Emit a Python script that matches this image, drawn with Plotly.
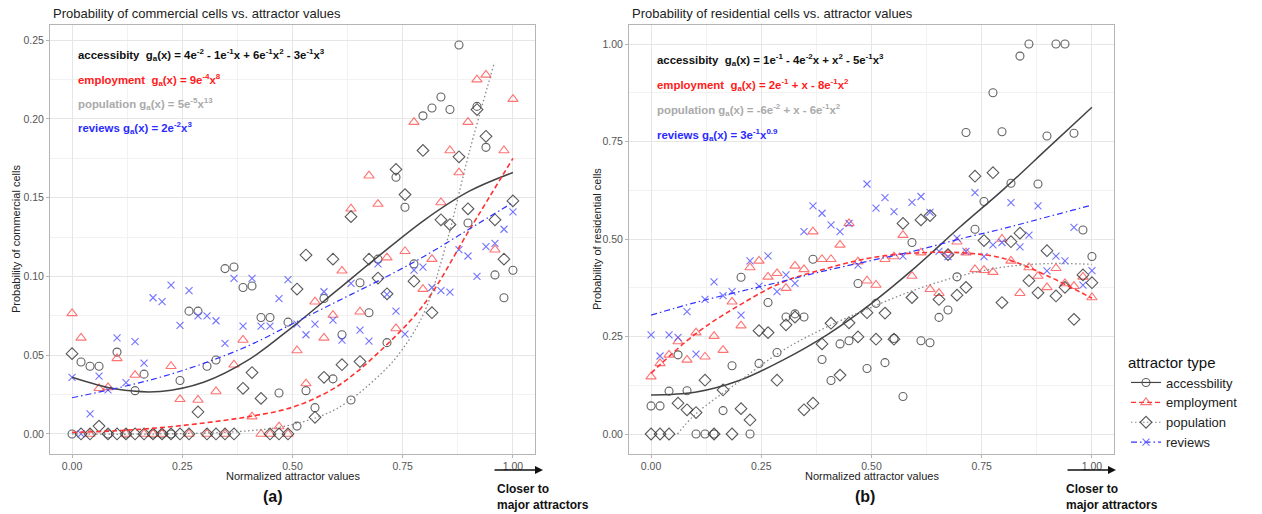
import plotly.graph_objects as go

# ---------------- data ----------------
x_norm = [0.0, 0.0204, 0.0408, 0.0612, 0.0816, 0.102, 0.1224, 0.1429, 0.1633, 0.1837,
          0.2041, 0.2245, 0.2449, 0.2653, 0.2857, 0.3061, 0.3265, 0.3469, 0.3673, 0.3878,
          0.4082, 0.4286, 0.449, 0.4694, 0.4898, 0.5102, 0.5306, 0.551, 0.5714, 0.5918,
          0.6122, 0.6327, 0.6531, 0.6735, 0.6939, 0.7143, 0.7347, 0.7551, 0.7755, 0.7959,
          0.8163, 0.8367, 0.8571, 0.8776, 0.898, 0.9184, 0.9388, 0.9592, 0.9796, 1.0]

# panel (a) commercial
acc_a = [0.0, 0.0457, 0.043, 0.043, 0.0, 0.052, 0.0, 0.0275, 0.038, 0.0,
         0.0, 0.0, 0.034, 0.078, 0.078, 0.043, 0.047, 0.105, 0.106, 0.093,
         0.094, 0.074, 0.074, 0.026, 0.071, 0.005, 0.0275, 0.0167, 0.086, 0.035,
         0.063, 0.0216, 0.096, 0.077, 0.111, 0.058, 0.163, 0.144, 0.108, 0.202,
         0.207, 0.214, 0.206, 0.247, 0.134, 0.208, 0.182, 0.101, 0.0865, 0.104]
emp_a = [0.0766, 0.061, 0.0, 0.029, 0.0296, 0.048, 0.0, 0.0374, 0.0, 0.0,
         0.0, 0.043, 0.022, 0.0, 0.0216, 0.0, 0.027, 0.0, 0.044, 0.0597,
         0.011, 0.0, 0.0, 0.0047, 0.0, 0.053, 0.032, 0.084, 0.061, 0.0755,
         0.1036, 0.143, 0.0776, 0.164, 0.146, 0.112, 0.067, 0.116, 0.198, 0.092,
         0.111, 0.147, 0.180, 0.166, 0.198, 0.225, 0.228, 0.117, 0.180, 0.2126]
pop_a = [0.051, 0.0, 0.0, 0.005, 0.0, 0.0, 0.0, 0.0, 0.0, 0.0,
         0.0, 0.0, 0.0, 0.0, 0.014, 0.0, 0.0, 0.0, 0.0, 0.029,
         0.039, 0.0226, 0.0, 0.0, 0.0, 0.092, 0.1136, 0.0106, 0.036, 0.111,
         0.044, 0.138, 0.046, 0.111, 0.099, 0.089, 0.168, 0.152, 0.097, 0.180,
         0.077, 0.136, 0.133, 0.176, 0.143, 0.206, 0.189, 0.136, 0.111, 0.148]
rev_a = [0.036, 0.0, 0.0127, 0.0368, 0.028, 0.061, 0.0326, 0.0586, 0.045, 0.0865,
         0.084, 0.0945, 0.069, 0.091, 0.075, 0.075, 0.0719, 0.0575, 0.0988, 0.0685,
         0.0988, 0.0685, 0.0685, 0.086, 0.098, 0.0697, 0.063, 0.0698, 0.0903, 0.0723,
         0.0596, 0.0956, 0.066, 0.059, 0.108, 0.0886, 0.078, 0.0634, 0.104, 0.106,
         0.093, 0.091, 0.090, 0.117, 0.113, 0.100, 0.119, 0.121, 0.130, 0.141]

# panel (b) residential
acc_b = [0.072, 0.072, 0.11, 0.203, 0.111, 0.0, 0.0, 0.0, 0.06, 0.175,
         0.402, 0.0, 0.181, 0.337, 0.209, 0.30, 0.308, 0.30, 0.448, 0.191,
         0.137, 0.231, 0.239, 0.386, 0.168, 0.335, 0.183, 0.245, 0.096, 0.491,
         0.239, 0.234, 0.299, 0.318, 0.403, 0.773, 0.525, 0.596, 0.875, 0.775,
         0.643, 0.969, 1.0, 0.641, 0.764, 1.0, 1.0, 0.771, 0.523, 0.455]
emp_b = [0.147, 0.181, 0.203, 0.237, 0.19, 0.26, 0.198, 0.251, 0.215, 0.339,
         0.278, 0.427, 0.444, 0.403, 0.412, 0.374, 0.431, 0.422, 0.519, 0.448,
         0.448, 0.485, 0.54, 0.442, 0.393, 0.382, 0.448, 0.455, 0.510, 0.405,
         0.465, 0.371, 0.361, 0.462, 0.493, 0.465, 0.422, 0.42, 0.415, 0.5,
         0.444, 0.361, 0.427, 0.405, 0.376, 0.425, 0.386, 0.379, 0.403, 0.35]
pop_b = [0.0, 0.0, 0.0, 0.079, 0.062, 0.055, 0.138, 0.0, 0.113, 0.0,
         0.065, 0.036, 0.265, 0.26, 0.138, 0.28, 0.30, 0.062, 0.079, 0.231,
         0.284, 0.151, 0.285, 0.249, 0.311, 0.243, 0.31, 0.243, 0.54, 0.35,
         0.549, 0.56, 0.345, 0.46, 0.356, 0.376, 0.661, 0.496, 0.670, 0.337,
         0.493, 0.515, 0.393, 0.362, 0.470, 0.354, 0.376, 0.294, 0.408, 0.388]
rev_b = [0.254, 0.2, 0.254, 0.248, 0.314, 0.205, 0.345, 0.39, 0.355, 0.365,
         0.305, 0.444, 0.379, 0.457, 0.365, 0.408, 0.386, 0.519, 0.585, 0.566,
         0.536, 0.519, 0.540, 0.433, 0.641, 0.579, 0.606, 0.570, 0.456, 0.594,
         0.609, 0.568, 0.468, 0.455, 0.502, 0.468, 0.619, 0.455, 0.485, 0.491,
         0.593, 0.480, 0.510, 0.585, 0.418, 0.456, 0.444, 0.530, 0.382, 0.419]

# fitted curves
fit_x = [0.0, 0.1, 0.2, 0.3, 0.4, 0.5, 0.6, 0.7, 0.8, 0.9, 1.0]
acc_a_fit = [0.036, 0.0285, 0.027, 0.033, 0.047, 0.068, 0.091, 0.114, 0.136, 0.154, 0.166]
emp_a_fit = [0.001, 0.002, 0.004, 0.007, 0.011, 0.017, 0.030, 0.053, 0.083, 0.129, 0.175]
pop_a_fit_x = [0.0, 0.2, 0.4, 0.5, 0.6, 0.7, 0.75, 0.8, 0.85, 0.9, 0.958]
pop_a_fit = [0.0, 0.0, 0.002, 0.006, 0.016, 0.038, 0.054, 0.078, 0.122, 0.178, 0.236]
rev_a_fit = [0.023, 0.029, 0.036, 0.045, 0.056, 0.070, 0.084, 0.098, 0.113, 0.130, 0.147]

acc_b_fit = [0.10, 0.107, 0.137, 0.19, 0.255, 0.335, 0.428, 0.53, 0.628, 0.733, 0.838]
emp_b_fit = [0.156, 0.256, 0.33, 0.39, 0.425, 0.452, 0.464, 0.465, 0.45, 0.405, 0.348]
pop_b_fit_x = [0.06, 0.1, 0.2, 0.3, 0.4, 0.5, 0.6, 0.7, 0.8, 0.9, 1.0]
pop_b_fit = [0.0, 0.05, 0.135, 0.215, 0.275, 0.325, 0.37, 0.405, 0.428, 0.437, 0.435]
rev_b_fit = [0.305, 0.337, 0.365, 0.392, 0.42, 0.445, 0.47, 0.50, 0.527, 0.557, 0.587]

series_names = ["accessbility", "employment", "population", "reviews"]
x_ticks = [0.0, 0.25, 0.5, 0.75, 1.0]
y_ticks_a = [0.0, 0.05, 0.10, 0.15, 0.20, 0.25]
y_ticks_b = [0.0, 0.25, 0.5, 0.75, 1.0]

formulas_a = [
    "accessibity&nbsp;&nbsp;g<sub>a</sub>(x) = 4e<sup>-2</sup> - 1e<sup>-1</sup>x + 6e<sup>-1</sup>x<sup>2</sup> - 3e<sup>-1</sup>x<sup>3</sup>",
    "employment&nbsp;&nbsp;g<sub>a</sub>(x) = 9e<sup>-4</sup>x<sup>8</sup>",
    "population g<sub>a</sub>(x) = 5e<sup>-5</sup>x<sup>13</sup>",
    "reviews g<sub>a</sub>(x) = 2e<sup>-2</sup>x<sup>3</sup>",
]
formulas_b = [
    "accessibity&nbsp;&nbsp;g<sub>a</sub>(x) = 1e<sup>-1</sup> - 4e<sup>-2</sup>x + x<sup>2</sup> - 5e<sup>-1</sup>x<sup>3</sup>",
    "employment&nbsp;&nbsp;g<sub>a</sub>(x) = 2e<sup>-1</sup> + x - 8e<sup>-1</sup>x<sup>2</sup>",
    "population g<sub>a</sub>(x) = -6e<sup>-2</sup> + x - 6e<sup>-1</sup>x<sup>2</sup>",
    "reviews g<sub>a</sub>(x) = 3e<sup>-1</sup>x<sup>0.9</sup>",
]

# ---------------- styling ----------------
W, H = 1262, 514
FONT = "Liberation Sans, Arial, sans-serif"
mk = {
    "accessbility": dict(symbol="circle-open", color="rgba(70,70,70,0.85)", size=8),
    "employment": dict(symbol="triangle-up-open", color="rgba(255,80,80,0.8)", size=9),
    "population": dict(symbol="diamond-open", color="rgba(60,60,60,0.85)", size=9),
    "reviews": dict(symbol="x-thin", color="rgba(80,80,255,0.8)", size=7),
}
ln = {
    "accessbility": dict(color="#444444", width=1.5, dash="solid"),
    "employment": dict(color="#FF3333", width=1.6, dash="5px,3px"),
    "population": dict(color="#888888", width=1.3, dash="1.5px,2.5px"),
    "reviews": dict(color="#3333FF", width=1.2, dash="6px,3px,1.5px,3px"),
}
txt_col = ["#111111", "#FF1A1A", "#AAAAAA", "#2A2AFF"]


def marker(name):
    m = mk[name]
    d = dict(symbol=m["symbol"], size=m["size"], color=m["color"])
    d["line"] = dict(color=m["color"], width=1.1)
    return d


fig = go.Figure()

panels = [
    ("x", "y", [acc_a, emp_a, pop_a, rev_a],
     [(fit_x, acc_a_fit), (fit_x, emp_a_fit), (pop_a_fit_x, pop_a_fit), (fit_x, rev_a_fit)]),
    ("x2", "y2", [acc_b, emp_b, pop_b, rev_b],
     [(fit_x, acc_b_fit), (fit_x, emp_b_fit), (pop_b_fit_x, pop_b_fit), (fit_x, rev_b_fit)]),
]

for xa, ya, pts, fits in panels:
    for name, yv in zip(series_names, pts):
        fig.add_trace(go.Scatter(x=x_norm, y=yv, mode="markers", marker=marker(name),
                                 xaxis=xa, yaxis=ya, showlegend=False, cliponaxis=False))
    for name, (fx, fy) in zip(series_names, fits):
        fig.add_trace(go.Scatter(x=fx, y=fy, mode="lines", line=dict(**ln[name], shape="spline"),
                                 xaxis=xa, yaxis=ya, showlegend=False))

# legend entries
for name in series_names:
    fig.add_trace(go.Scatter(x=[None], y=[None], mode="lines+markers", name=name,
                             marker=marker(name), line=dict(color=ln[name]["color"], width=1.2,
                                                            dash=ln[name]["dash"]),
                             xaxis="x2", yaxis="y2", showlegend=True))


def px_x(p):
    return p / W


def px_y(p):
    return 1 - p / H


grid_major = "#E6E6E6"
grid_minor = "#F2F2F2"
axis_common = dict(showline=True, linecolor="#B5B5B5", linewidth=1, mirror=True,
                   ticks="outside", ticklen=3, tickcolor="#B5B5B5",
                   tickfont=dict(family=FONT, size=10.5, color="#555555"),
                   showgrid=True, gridcolor=grid_major, gridwidth=1, zeroline=False)

ydom = [px_y(453.5), px_y(24.5)]
fig.update_layout(
    width=W, height=H, margin=dict(l=0, r=0, t=0, b=0),
    paper_bgcolor="white", plot_bgcolor="white",
    font=dict(family=FONT),
    xaxis=dict(domain=[px_x(50), px_x(535)], range=[-0.05, 1.05], tickvals=x_ticks,
               ticktext=["%.2f" % v for v in x_ticks],
               minor=dict(showgrid=True, gridcolor=grid_minor, dtick=0.125, tick0=0.125), **axis_common),
    yaxis=dict(domain=ydom, range=[-0.0124, 0.26], tickvals=y_ticks_a,
               ticktext=["%.2f" % v for v in y_ticks_a],
               minor=dict(showgrid=True, gridcolor=grid_minor, dtick=0.025, tick0=0.025), **axis_common),
    xaxis2=dict(domain=[px_x(629), px_x(1114)], range=[-0.05, 1.05], tickvals=x_ticks, anchor="y2",
                ticktext=["%.2f" % v for v in x_ticks],
                minor=dict(showgrid=True, gridcolor=grid_minor, dtick=0.125, tick0=0.125), **axis_common),
    yaxis2=dict(domain=ydom, range=[-0.05, 1.05], tickvals=y_ticks_b, anchor="x2",
                ticktext=["%.2f" % v for v in y_ticks_b],
                minor=dict(showgrid=True, gridcolor=grid_minor, dtick=0.125, tick0=0.125), **axis_common),
    legend=dict(x=px_x(1126), y=px_y(348), xanchor="left", yanchor="top",
                title=dict(text="attractor type", font=dict(family=FONT, size=15, color="#111111")),
                font=dict(family=FONT, size=13, color="#222222"), itemwidth=30,
                bgcolor="rgba(0,0,0,0)", tracegroupgap=0),
)

ann = []
# titles
ann.append(dict(text="Probability of commercial cells vs. attractor values", x=px_x(51), y=px_y(13),
                xanchor="left", yanchor="middle", font=dict(size=13, color="#222222")))
ann.append(dict(text="Probability of residential cells vs. attractor values", x=px_x(630), y=px_y(13),
                xanchor="left", yanchor="middle", font=dict(size=13, color="#222222")))
# axis titles
for cx, t in [(292.5, "Normalized attractor values"), (871.5, "Normalized attractor values")]:
    ann.append(dict(text=t, x=px_x(cx), y=px_y(476), xanchor="center", yanchor="middle",
                    font=dict(size=11, color="#222222")))
ann.append(dict(text="Probability of commercial cells", x=px_x(16), y=px_y(239), textangle=-90,
                xanchor="center", yanchor="middle", font=dict(size=11, color="#222222")))
ann.append(dict(text="Probability of residential cells", x=px_x(597), y=px_y(239), textangle=-90,
                xanchor="center", yanchor="middle", font=dict(size=11, color="#222222")))
# formulas
for i, (t, c) in enumerate(zip(formulas_a, txt_col)):
    ann.append(dict(text="<b>" + t + "</b>", x=px_x(76), y=px_y([55, 80, 104, 128][i]),
                    xanchor="left", yanchor="middle", font=dict(size=11.4, color=c)))
for i, (t, c) in enumerate(zip(formulas_b, txt_col)):
    ann.append(dict(text="<b>" + t + "</b>", x=px_x(655), y=px_y([60, 85, 110, 135][i]),
                    xanchor="left", yanchor="middle", font=dict(size=11.4, color=c)))
# panel letters and arrows
for cx, t in [(273, "<b>(a)</b>"), (865, "<b>(b)</b>")]:
    ann.append(dict(text=t, x=px_x(cx), y=px_y(496), xanchor="center", yanchor="middle",
                    font=dict(size=16, color="#111111")))
for ax0, tx in [(493, 495), (1066, 1064)]:
    ann.append(dict(text="", x=px_x(ax0 + 50), y=px_y(470), ax=-50, ay=0, showarrow=True,
                    arrowhead=2, arrowsize=1, arrowwidth=1.6, arrowcolor="#111111"))
    ann.append(dict(text="<b>Closer to</b>", x=px_x(tx), y=px_y(489), xanchor="left", yanchor="middle",
                    font=dict(size=12, color="#111111")))
    ann.append(dict(text="<b>major attractors</b>", x=px_x(tx), y=px_y(505), xanchor="left",
                    yanchor="middle", font=dict(size=12, color="#111111")))

for a in ann:
    a.setdefault("showarrow", False)
    a["xref"] = "paper"
    a["yref"] = "paper"
    a.setdefault("font", {})
    a["font"].setdefault("family", FONT)
fig.update_layout(annotations=ann)

fig.write_html("out.html")
